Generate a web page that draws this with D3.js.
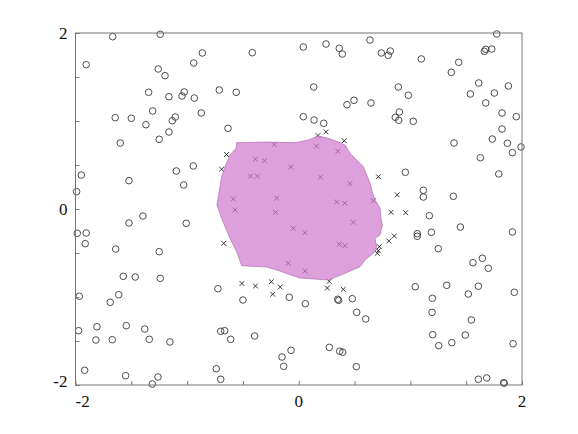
<!DOCTYPE html>
<html><head><meta charset="utf-8">
<script src="https://cdn.jsdelivr.net/npm/d3@7"></script>
<style>html,body{margin:0;padding:0;background:#fff;} .lbl{font-family:"Liberation Serif","DejaVu Serif","Times New Roman",serif;font-size:17px;fill:#111;}</style>
</head><body>
<svg id="chart" width="578" height="434"></svg>
<script>
const xTickLabels = [-2, 0, 2];
const yTickLabels = [-2, 0, 2];
const tickValues = [-2, -1.5, -1, -0.5, 0, 0.5, 1, 1.5, 2];

// circle markers (outside points)
const circX = [-1.667,-1.241,-1.904,-0.864,-0.416,-0.941,-1.259,-1.198,-1.345,-1.026,-1.046,-1.163,-0.936,-0.712,-0.560,-1.309,-0.873,-1.644,-1.500,-1.106,-1.133,-1.369,-1.163,-1.250,-1.599,-0.634,-0.945,-1.097,-1.948,-1.521,-1.031,-1.99,
0.041,0.244,0.363,0.390,0.638,0.740,0.802,0.820,1.098,1.774,1.663,1.675,1.729,1.433,1.367,0.134,0.892,0.982,1.612,1.537,1.752,1.878,1.675,0.495,0.432,0.647,0.901,0.865,0.896,1.026,1.821,1.949,0.041,0.137,0.224,1.821,1.734,1.869,1.991,1.914,1.391,1.627,1.792,0.955,1.116,1.116,1.385,
-1.396,-1.521,-1.008,-1.984,-1.904,-1.913,-1.640,-1.250,-1.572,-1.465,-1.241,-0.724,-1.966,-1.613,-1.689,-0.500,-0.085,-1.972,-1.808,-1.545,-1.380,-1.817,-1.671,-1.339,-1.154,-0.699,-0.664,-0.610,-0.395,-0.069,-0.150,-0.135,-1.918,-1.551,-1.261,-1.312,-0.739,-0.699,
1.170,1.448,1.188,1.062,1.062,1.914,1.250,1.645,1.561,1.698,1.044,1.326,1.609,1.519,1.931,0.059,0.349,0.358,0.480,1.197,0.519,0.600,1.194,1.546,1.200,1.254,1.371,1.492,1.920,0.274,0.367,0.394,0.516,1.609,1.684,1.836,1.840];
const circY = [1.958,1.985,1.640,1.773,1.776,1.659,1.591,1.515,1.326,1.330,1.284,1.276,1.261,1.352,1.326,1.114,1.091,1.038,1.031,1.045,1.003,0.958,0.875,0.792,0.750,0.917,0.489,0.432,0.386,0.322,0.273,0.197,
1.841,1.875,1.826,1.761,1.920,1.773,1.747,1.795,1.705,1.989,1.792,1.815,1.818,1.667,1.553,1.386,1.386,1.292,1.432,1.307,1.318,1.398,1.205,1.235,1.185,1.205,1.102,1.042,1.008,0.997,1.091,1.049,1.049,1.011,0.974,0.909,0.795,0.747,0.705,0.640,0.750,0.583,0.398,0.417,0.213,0.136,0.144,
-0.080,-0.159,-0.163,-0.276,-0.273,-0.394,-0.455,-0.485,-0.765,-0.773,-0.788,-0.906,-0.992,-0.974,-1.060,-1.034,-1.003,-1.383,-1.338,-1.326,-1.364,-1.489,-1.485,-1.481,-1.511,-1.390,-1.383,-1.481,-1.443,-1.606,-1.682,-1.788,-1.833,-1.894,-1.909,-1.989,-1.815,-1.935,
-0.076,-0.205,-0.265,-0.281,-0.310,-0.261,-0.451,-0.560,-0.610,-0.674,-0.883,-0.867,-0.878,-0.966,-0.947,-1.076,-1.026,-1.038,-1.019,-1.015,-1.174,-1.250,-1.174,-1.261,-1.428,-1.553,-1.519,-1.432,-1.531,-1.572,-1.617,-1.628,-1.792,-1.935,-1.920,-1.974,-1.979];

// cross markers (points near / inside the region)
const crossX = [-0.647,-0.691,-0.220,-0.388,-0.307,-0.071,-0.432,-0.370,-0.198,-0.586,
0.244,0.172,0.408,0.159,0.349,0.713,0.882,0.195,0.459,0.340,0.412,0.669,
-0.672,-0.509,-0.388,-0.246,-0.166,-0.233,-0.571,-0.208,-0.049,-0.094,
0.827,0.958,0.807,0.856,0.722,0.713,0.704,0.273,0.256,0.399,0.056,0.489,0.363,0.414,0.058];
const crossY = [0.619,0.452,0.733,0.566,0.549,0.477,0.373,0.373,0.123,0.114,
0.877,0.835,0.776,0.714,0.656,0.367,0.161,0.361,0.288,0.080,0.065,0.094,
-0.390,-0.847,-0.875,-0.826,-0.886,-0.969,-0.011,-0.038,-0.219,-0.617,
-0.038,-0.042,-0.364,-0.307,-0.428,-0.474,-0.503,-0.822,-0.898,-0.913,-0.269,-0.151,-0.401,-0.417,-0.705];

// region outline
const regionX = [-0.556,-0.293,-0.034,0.086,0.175,0.265,0.370,0.414,0.459,0.519,0.578,0.609,0.638,0.659,0.683,0.713,0.728,0.737,0.749,0.728,0.683,0.698,0.683,0.594,0.549,0.414,0.265,0.011,-0.198,-0.287,-0.511,-0.556,-0.616,-0.691,-0.733,-0.721,-0.691,-0.661,-0.616,-0.562];
const regionY = [0.753,0.761,0.753,0.784,0.830,0.803,0.753,0.727,0.633,0.557,0.481,0.386,0.292,0.197,0.102,0.045,0.008,-0.106,-0.182,-0.295,-0.333,-0.428,-0.485,-0.580,-0.656,-0.731,-0.807,-0.784,-0.693,-0.659,-0.644,-0.485,-0.333,-0.106,0.045,0.140,0.367,0.481,0.614,0.690];

const svg = d3.select("#chart");
const x = d3.scaleLinear().domain([-2, 2]).range([75.5, 522]);
const y = d3.scaleLinear().domain([-2, 2]).range([385, 33]);
const frameColor = "#777";

// cross markers (drawn first, region on top, translucent)
const cs = 2.4;
const crosses = svg.append("g").attr("stroke", "#222").attr("stroke-width", 0.9);
crossX.forEach((cx, i) => {
  const px = x(cx), py = y(crossY[i]);
  crosses.append("path").attr("d", `M${px-cs},${py-cs}L${px+cs},${py+cs}M${px-cs},${py+cs}L${px+cs},${py-cs}`);
});

// region
svg.append("path")
  .attr("d", d3.line().x(d => x(d[0])).y(d => y(d[1]))(regionX.map((v, i) => [v, regionY[i]])) + "Z")
  .attr("fill", "rgb(206,119,206)")
  .attr("fill-opacity", 0.7)
  .attr("stroke", "rgb(175,110,175)")
  .attr("stroke-width", 0.7);

// circles
svg.append("g").selectAll("circle").data(circX).join("circle")
  .attr("cx", d => x(d)).attr("cy", (d, i) => y(circY[i]))
  .attr("r", 3.3).attr("fill", "none").attr("stroke", "#3a3a3a").attr("stroke-width", 0.9);

// frame
svg.append("rect").attr("x", x(-2)).attr("y", y(2))
  .attr("width", x(2) - x(-2)).attr("height", y(-2) - y(2))
  .attr("fill", "none").attr("stroke", frameColor).attr("stroke-width", 1);

// ticks inward
const bottomAxis = d3.axisBottom(x).tickValues(tickValues).tickSize(-4).tickFormat("");
const gx = svg.append("g").attr("transform", `translate(0,${y(-2)})`).call(bottomAxis);
gx.select(".domain").remove();
gx.selectAll("line").attr("stroke", frameColor);
const leftAxis = d3.axisLeft(y).tickValues(tickValues).tickSize(-4).tickFormat("");
const gy = svg.append("g").attr("transform", `translate(${x(-2)},0)`).call(leftAxis);
gy.select(".domain").remove();
gy.selectAll("line").attr("stroke", frameColor);

// tick labels
const xl = svg.append("g");
xTickLabels.forEach(v => {
  const t = xl.append("text").attr("class", "lbl").attr("x", x(v)).attr("y", y(-2) + 22).attr("text-anchor", "middle").text(String(v));
  const bb = t.node().getBBox();
  if (bb.x < x(-2)) t.attr("x", x(v) + (x(-2) - bb.x));
});
const yl = svg.append("g");
yTickLabels.forEach(v => {
  const py = Math.min(y(v), y(-2) - 4);
  yl.append("text").attr("class", "lbl").attr("x", x(-2) - 8).attr("y", py + 6).attr("text-anchor", "end").text(String(v));
});
</script>
</body></html>
